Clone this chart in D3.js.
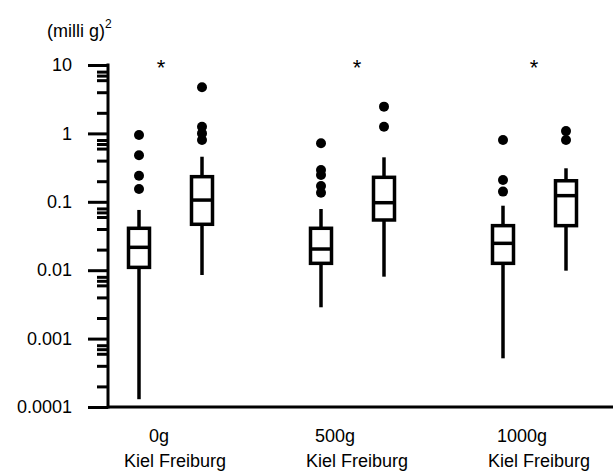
<!DOCTYPE html>
<html>
<head>
<meta charset="utf-8">
<script src="https://cdn.jsdelivr.net/npm/d3@7"></script>
<style>
  body { margin: 0; background: #fff; }
  svg text { font-family: Arial, "Liberation Sans", sans-serif; fill: #000; }
</style>
</head>
<body>
<svg id="chart" width="613" height="475"></svg>
<script>
// groups (weight) and sites within each group
var groups = ["0g", "500g", "1000g"];
var sites = ["Kiel", "Freiburg"];

// box stats, order: 0g Kiel, 0g Freiburg, 500g Kiel, 500g Freiburg, 1000g Kiel, 1000g Freiburg
var whiskerLow  = [0.00013, 0.0085, 0.00287, 0.00804, 0.000515, 0.00984];
var q1          = [0.011,   0.0469, 0.0126,  0.0542,  0.0126,   0.0448];
var median      = [0.0216,  0.106,  0.0204,  0.097,   0.0247,   0.123];
var q3          = [0.041,   0.233,  0.041,   0.228,   0.0448,   0.203];
var whiskerHigh = [0.076,   0.456,  0.0785,  0.447,   0.0877,   0.309];
var outliers = [
  [0.95, 0.48, 0.24, 0.154],
  [4.72, 1.25, 1.0, 0.80],
  [0.716, 0.292, 0.247, 0.170, 0.136],
  [2.46, 1.25],
  [0.80, 0.208, 0.141],
  [1.08, 0.80]
];

// y axis ticks
var majorTicks = [10, 1, 0.1, 0.01, 0.001, 0.0001];
var minorMult = [2, 4, 6, 7, 8];

var svg = d3.select("#chart");
var axisX = 108, baseY = 407;

var y = d3.scaleLog()
    .domain([0.0001, 10])
    .range([baseY, 65]);

// one point per group (Kiel position), site offset inside the group
var x = d3.scalePoint()
    .domain(groups)
    .range([139, 503]);
var xSite = d3.scalePoint()
    .domain(sites)
    .range([0, 63]);

var minorTicks = [];
majorTicks.slice(1).forEach(function(t) {
  minorMult.forEach(function(m) { minorTicks.push(t * m); });
});

// y axis: major ticks with labels
var yAxis = d3.axisLeft(y)
    .tickValues(majorTicks)
    .tickFormat(function(d) { return String(+d.toPrecision(1)); })
    .tickSizeInner(20)
    .tickSizeOuter(0)
    .tickPadding(16);

var gy = svg.append("g")
    .attr("transform", "translate(" + axisX + ",0)")
    .call(yAxis);
gy.select(".domain").remove();
gy.selectAll(".tick line").attr("stroke", "#000").attr("stroke-width", 3);
gy.selectAll(".tick text")
    .attr("font-size", 18)
    .attr("font-family", "Arial, 'Liberation Sans', sans-serif");

// minor ticks
var gm = svg.append("g")
    .attr("transform", "translate(" + axisX + ",0)")
    .call(d3.axisLeft(y).tickValues(minorTicks).tickSizeInner(11).tickSizeOuter(0).tickFormat(""));
gm.select(".domain").remove();
gm.selectAll(".tick line").attr("stroke", "#000").attr("stroke-width", 3);

// axis lines
svg.append("line")
    .attr("x1", axisX).attr("x2", axisX)
    .attr("y1", y(10) - 1.5).attr("y2", baseY + 1.5)
    .attr("stroke", "#000").attr("stroke-width", 3);
svg.append("line")
    .attr("x1", axisX).attr("x2", 613)
    .attr("y1", baseY).attr("y2", baseY)
    .attr("stroke", "#000").attr("stroke-width", 3);

// unit label
var unit = svg.append("text")
    .attr("x", 47).attr("y", 37)
    .attr("font-size", 18)
    .text("(milli g)");
unit.append("tspan")
    .attr("font-size", 12)
    .attr("dy", -9)
    .text("2");

// boxes
var boxes = [];
groups.forEach(function(g, gi) {
  sites.forEach(function(s, si) {
    var i = gi * sites.length + si;
    boxes.push({
      group: g, site: s,
      lo: whiskerLow[i], q1: q1[i], med: median[i], q3: q3[i], hi: whiskerHigh[i],
      out: outliers[i]
    });
  });
});

var boxW = 21;
var bg = svg.selectAll("g.box")
    .data(boxes)
  .enter().append("g")
    .attr("class", "box")
    .attr("transform", function(d) { return "translate(" + (x(d.group) + xSite(d.site)) + ",0)"; });

bg.append("line")
    .attr("x1", 0).attr("x2", 0)
    .attr("y1", function(d) { return y(d.lo); })
    .attr("y2", function(d) { return y(d.q1); })
    .attr("stroke", "#000").attr("stroke-width", 3.5);
bg.append("line")
    .attr("x1", 0).attr("x2", 0)
    .attr("y1", function(d) { return y(d.q3); })
    .attr("y2", function(d) { return y(d.hi); })
    .attr("stroke", "#000").attr("stroke-width", 3.5);
bg.append("rect")
    .attr("x", -boxW / 2)
    .attr("width", boxW)
    .attr("y", function(d) { return y(d.q3); })
    .attr("height", function(d) { return y(d.q1) - y(d.q3); })
    .attr("fill", "#fff")
    .attr("stroke", "#000").attr("stroke-width", 3.5);
bg.append("line")
    .attr("x1", -boxW / 2).attr("x2", boxW / 2)
    .attr("y1", function(d) { return y(d.med); })
    .attr("y2", function(d) { return y(d.med); })
    .attr("stroke", "#000").attr("stroke-width", 3.5);
bg.selectAll("circle")
    .data(function(d) { return d.out; })
  .enter().append("circle")
    .attr("cx", 0)
    .attr("cy", function(v) { return y(v); })
    .attr("r", 5)
    .attr("fill", "#000");

// significance marks
svg.selectAll("text.star")
    .data(groups)
  .enter().append("text")
    .attr("class", "star")
    .attr("x", function(g, i) { return x(g) + [22, 36, 31][i]; })
    .attr("y", 75)
    .attr("text-anchor", "middle")
    .attr("font-size", 22)
    .text("*");

// category labels
svg.selectAll("text.grp")
    .data(groups)
  .enter().append("text")
    .attr("class", "grp")
    .attr("x", function(g, i) { return x(g) + [20, 14, 19][i]; })
    .attr("y", 442)
    .attr("text-anchor", "middle")
    .attr("font-size", 18)
    .text(function(g) { return g; });

svg.selectAll("text.site")
    .data(groups)
  .enter().append("text")
    .attr("class", "site")
    .attr("x", function(g) { return x(g) - 15; })
    .attr("y", 467)
    .attr("font-size", 18)
    .text(sites.join(" "));
</script>
</body>
</html>
